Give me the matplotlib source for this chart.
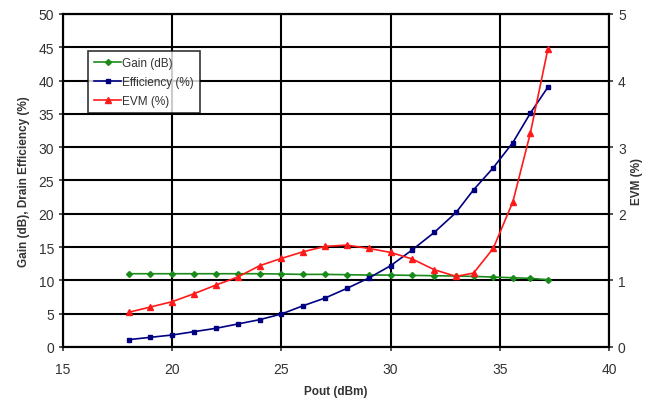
import matplotlib
matplotlib.use('Agg')
import matplotlib.pyplot as plt
import numpy as np

plt.rcParams['font.family'] = ['Liberation Sans', 'DejaVu Sans']

pout = [18, 19, 20, 21, 22, 23, 24, 25, 26, 27, 28, 29, 30, 31, 32, 33,
        33.8, 34.7, 35.6, 36.4, 37.2]
gain = [11, 11, 11, 11, 11, 11, 11, 10.95, 10.9, 10.9, 10.85, 10.8, 10.8,
        10.75, 10.7, 10.65, 10.6, 10.5, 10.4, 10.3, 10.1]
eff = [1.1, 1.45, 1.8, 2.3, 2.8, 3.45, 4.1, 4.95, 6.2, 7.35, 8.8, 10.35,
       12.2, 14.6, 17.2, 20.2, 23.6, 26.9, 30.7, 35.1, 39.0]
evm = [0.52, 0.6, 0.68, 0.8, 0.93, 1.05, 1.22, 1.33, 1.43, 1.51, 1.53, 1.48,
       1.42, 1.32, 1.16, 1.06, 1.11, 1.48, 2.18, 3.21, 4.47]

fig = plt.figure(figsize=(6.47, 4.06), dpi=100)
ax = fig.add_axes([0.0974, 0.1429, 0.8438, 0.8202])
ax2 = ax.twinx()

ax.set_xlim(15, 40)
ax.set_ylim(0, 50)
ax2.set_ylim(0, 5)
ax.set_xticks(np.arange(15, 41, 5))
ax.set_yticks(np.arange(0, 51, 5))
ax2.set_yticks(np.arange(0, 6, 1))
ax.grid(True, color='black', linewidth=1.5)
ax.set_axisbelow(True)

l1, = ax.plot(pout, gain, color='#1a8a1a', marker='D', markersize=3,
              linewidth=1.2, label='Gain (dB)')
l2, = ax.plot(pout, eff, color='#000080', marker='s', markersize=3.5,
              linewidth=1.2, label='Efficiency (%)')
l3, = ax2.plot(pout, evm, color='#ff1a1a', marker='^', markersize=4,
               linewidth=1.2, label='EVM (%)')

for a in (ax, ax2):
    for s in a.spines.values():
        s.set_color('black')
        s.set_linewidth(1.5)
    a.tick_params(labelsize=10, colors='#333333', length=3, width=1.2)
ax.tick_params(axis='x', pad=8)

ax.set_xlabel('Pout (dBm)', fontsize=8.5, fontweight='bold', color='#333333',
              labelpad=6)
ax.set_ylabel('Gain (dB), Drain Efficiency (%)', fontsize=8.5,
              fontweight='bold', color='#333333', labelpad=6)
ax2.set_ylabel('EVM (%)', fontsize=8.5, fontweight='bold', color='#333333',
               rotation=90, labelpad=4)

leg = ax2.legend(handles=[l1, l2, l3], loc='upper left',
                 bbox_to_anchor=(0.046, 0.889), borderaxespad=0,
                 fontsize=8.5, frameon=True, fancybox=False, handlelength=2.3,
                 labelspacing=0.6, handletextpad=0.1, borderpad=0.5)
leg.get_frame().set_edgecolor('black')
leg.get_frame().set_linewidth(1.2)
for t in leg.get_texts():
    t.set_color('#333333')

fig.savefig('out.png', dpi=100)
